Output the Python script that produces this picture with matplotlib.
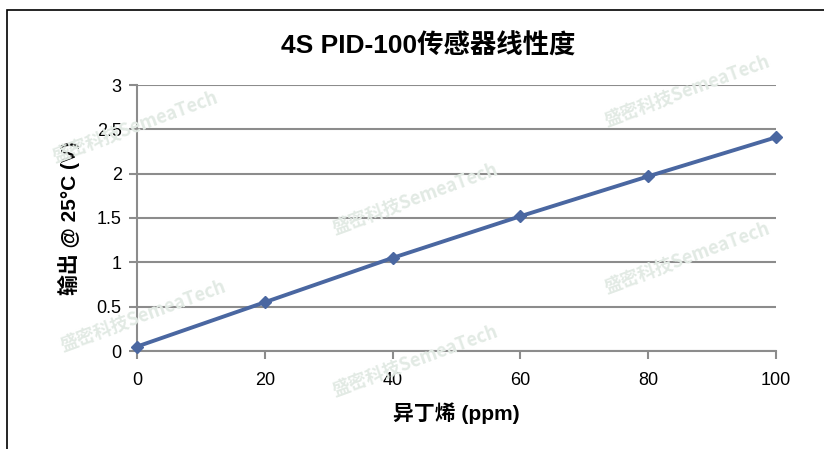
import matplotlib
matplotlib.use("Agg")
from matplotlib import pyplot
from matplotlib.patches import Rectangle

# data
conc_ppm = [0, 20, 40, 60, 80, 100]
output_v = [0.05, 0.55, 1.05, 1.52, 1.97, 2.41]
x_ticks = [0, 20, 40, 60, 80, 100]
y_ticks = [0, 0.5, 1, 1.5, 2, 2.5, 3]
y_ticklabels = ["0", "0.5", "1", "1.5", "2", "2.5", "3"]

title = "4S PID-100传感器线性度"
xlabel = "异丁烯 (ppm)"
ylabel = "输出 @ 25°C (V)"
watermark = "盛密科技SemeaTech"
wm_spots = [(0.06, 0.63), (0.07, 0.21), (0.40, 0.47), (0.40, 0.11), (0.73, 0.71), (0.73, 0.34)]

fonts = ["Liberation Sans", "Noto Sans CJK SC", "DejaVu Sans"]
pyplot.rcParams["font.family"] = fonts

fig = pyplot.figure(figsize=(8.24, 4.49), dpi=100)

# faint watermarks behind everything
for wx, wy in wm_spots:
    fig.text(wx, wy, watermark, rotation=20, fontsize=13, color="#e2eae4",
             fontweight="bold", ha="left", va="bottom", zorder=0,
             family=["Noto Sans CJK SC", "DejaVu Sans"])

# outer frame of the chart area
fig.patches.append(Rectangle((7 / 824, -0.1), 1.2, 1 - 10 / 449 + 0.1,
                             transform=fig.transFigure, fill=False,
                             edgecolor="black", lw=1.2, zorder=1))

ax = fig.add_axes([137 / 824, 1 - 351 / 449, (776 - 137) / 824, (351 - 85) / 449])
ax.patch.set_alpha(0)

ax.plot(conc_ppm, output_v, color="#4a67a1", lw=2.8, marker="D", ms=6,
        markeredgecolor="#4a67a1", zorder=3, clip_on=False)

ax.set_xlim(0, 100)
ax.set_ylim(0, 3)
ax.set_xticks(x_ticks)
ax.set_yticks(y_ticks)
ax.set_yticklabels(y_ticklabels)
ax.grid(axis="y", color="#8c8c8c", lw=1.5)
ax.set_axisbelow(True)

for side in ["top", "right"]:
    ax.spines[side].set_visible(False)
for side in ["left", "bottom"]:
    ax.spines[side].set_color("#8c8c8c")
    ax.spines[side].set_linewidth(1.5)
ax.tick_params(axis="both", colors="#8c8c8c", width=1.5, length=6,
               labelcolor="black", labelsize=13)
ax.tick_params(axis="y", pad=5)
ax.tick_params(axis="x", pad=9)

ax.set_xlabel(xlabel, fontsize=15, fontweight="bold", labelpad=10)
ax.set_ylabel(ylabel, fontsize=15, fontweight="bold", labelpad=12)
fig.text(0.52, 0.897, title, ha="center", va="center", fontsize=19,
         fontweight="bold")

fig.savefig("out.png", dpi=100)
